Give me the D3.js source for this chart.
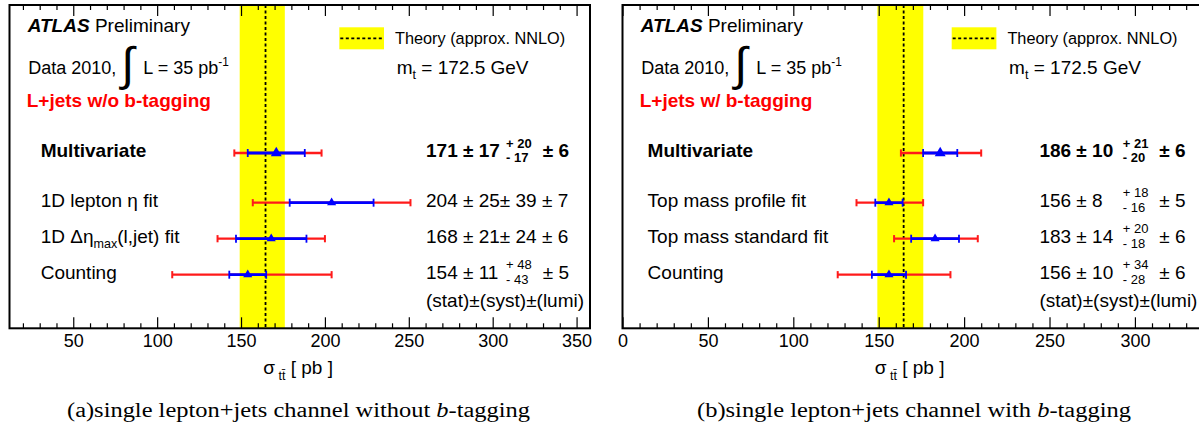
<!DOCTYPE html>
<html><head><meta charset="utf-8">
<script src="https://cdn.jsdelivr.net/npm/d3@7"></script>
<style>body{margin:0;background:#fff}svg{display:block}text{fill:#000}</style>
</head><body>
<script>
// ---------- data ----------
const theory = 164.6, theoryUp = 11.5, theoryDn = 15.4;

const categoriesL = ["Multivariate", "1D lepton η fit", "1D Δη_{max}(l,jet) fit", "Counting"];
const valuesL  = [171, 204, 168, 154];
const statL    = [17, 25, 21, 11];
const systUpL  = [20, 39, 24, 48];
const systDnL  = [17, 39, 24, 43];
const lumiL    = [6, 7, 6, 5];
const totUpL   = [27, 47, 32, 50];
const totDnL   = [25, 47, 32, 45];

const categoriesR = ["Multivariate", "Top mass profile fit", "Top mass standard fit", "Counting"];
const valuesR  = [186, 156, 183, 156];
const statR    = [10, 8, 14, 10];
const systUpR  = [21, 18, 20, 34];
const systDnR  = [20, 16, 18, 28];
const lumiR    = [6, 5, 6, 6];
const totUpR   = [24, 20, 25, 36];
const totDnR   = [23, 19, 24, 30];

const majorTicksL = [50, 100, 150, 200, 250, 300, 350];
const majorTicksR = [0, 50, 100, 150, 200, 250, 300];

// ---------- layout ----------
const W = 1199, H = 434;
const yTop = 5, yBot = 328.3;
const SANS = '"Liberation Sans",Arial,sans-serif';
const SERIF = '"Liberation Serif","Times New Roman",serif';
const svg = d3.select("body").append("svg").attr("width", W).attr("height", H)
  .style("font-family", SANS);

function rich(g, x, y, s, fs, extra) {
  const t = g.append("text").attr("x", x).attr("y", y).attr("font-size", fs);
  if (extra) extra(t);
  const re = /([_^])\{([^}]*)\}/g; let last = 0, m; const parts = [];
  while ((m = re.exec(s))) {
    if (m.index > last) parts.push({t: s.slice(last, m.index), k: 0});
    parts.push({t: m[2], k: m[1] === "_" ? 1 : -1}); last = re.lastIndex;
  }
  if (last < s.length) parts.push({t: s.slice(last), k: 0});
  let shift = 0;
  parts.forEach(p => {
    const target = p.k === 1 ? fs * 0.28 : p.k === -1 ? -fs * 0.47 : 0;
    const sp = t.append("tspan").attr("dy", target - shift).text(p.t);
    if (p.k) sp.attr("font-size", fs * 0.66);
    shift = target;
  });
  return t;
}

function panel(cfg) {
  const g = svg.append("g");
  const x = d3.scaleLinear().domain(cfg.domain).range(cfg.range);
  const rowY = d3.scaleLinear().domain([0, 1]).range([202.7, 238.7]);
  const yOf = i => i === 0 ? rowY(-1.38) : rowY(i - 1);

  // theory band + line
  g.append("rect").attr("x", x(theory - theoryDn)).attr("y", yTop)
    .attr("width", x(theory + theoryUp) - x(theory - theoryDn)).attr("height", yBot - yTop)
    .attr("fill", "#ffff00");
  g.append("line").attr("x1", x(theory)).attr("x2", x(theory)).attr("y1", yTop).attr("y2", yBot)
    .attr("stroke", "#000").attr("stroke-width", 1.8).attr("stroke-dasharray", "3,2.5");

  // axes (ticks inward)
  const minor = d3.range(0, 400, 10).filter(v => v >= cfg.domain[0] && v <= cfg.domain[1] && v % 50 !== 0);
  const axB = d3.axisBottom(x).tickValues(cfg.ticks).tickSizeInner(-11).tickSizeOuter(0).tickPadding(6).tickFormat(d3.format("d"));
  const gb = g.append("g").attr("transform", `translate(0,${yBot})`).call(axB);
  gb.attr("font-family", null).attr("font-size", null);
  gb.selectAll("text").attr("font-size", 18).style("font-family", SANS);
  g.append("g").attr("transform", `translate(0,${yBot})`)
    .call(d3.axisBottom(x).tickValues(minor).tickSizeInner(-5).tickSizeOuter(0).tickFormat(""));
  g.append("g").attr("transform", `translate(0,${yTop})`)
    .call(d3.axisTop(x).tickValues(cfg.ticks).tickSizeInner(-11).tickSizeOuter(0).tickFormat(""));
  g.append("g").attr("transform", `translate(0,${yTop})`)
    .call(d3.axisTop(x).tickValues(minor).tickSizeInner(-5).tickSizeOuter(0).tickFormat(""));
  g.selectAll(".domain").remove();
  g.selectAll(".tick line").attr("stroke", "#000").attr("stroke-width", 1.2);

  // error bars
  const d = cfg.values.map((v, i) => ({v, i, s: cfg.stat[i], tu: cfg.totUp[i], td: cfg.totDn[i]}));
  const bars = g.append("g");
  d.forEach(r => {
    const y = yOf(r.i);
    const lo = x(r.v - r.td), hi = x(r.v + r.tu);
    bars.append("line").attr("x1", lo).attr("x2", hi).attr("y1", y).attr("y2", y).attr("stroke", "#ff1a1a").attr("stroke-width", 2.3);
    [lo, hi].forEach(px => bars.append("line").attr("x1", px).attr("x2", px).attr("y1", y - 3.6).attr("y2", y + 3.6).attr("stroke", "#ff1a1a").attr("stroke-width", 2));
    const slo = x(r.v - r.s), shi = x(r.v + r.s);
    bars.append("line").attr("x1", slo).attr("x2", shi).attr("y1", y).attr("y2", y).attr("stroke", "#0000ff").attr("stroke-width", r.i === 0 ? 3.2 : 2.7);
    [slo, shi].forEach(px => bars.append("line").attr("x1", px).attr("x2", px).attr("y1", y - 4).attr("y2", y + 4).attr("stroke", "#0000ff").attr("stroke-width", 1.8));
    bars.append("path").attr("d", d3.symbol(d3.symbolTriangle).size(r.i === 0 ? 52 : 36)())
      .attr("transform", `translate(${x(r.v)},${y})`).attr("fill", "#0000ff");
  });

  // row labels
  cfg.cats.forEach((c, i) => {
    rich(g, cfg.labelX, yOf(i) + 4, c, 19, t => { if (i === 0) t.attr("font-weight", "bold"); });
  });

  // values
  cfg.values.forEach((v, i) => {
    const y = yOf(i) + 4;
    const bold = i === 0;
    const fw = t => t.attr("font-weight", bold ? "bold" : "normal");
    if (cfg.systUp[i] === cfg.systDn[i]) {
      fw(g.append("text").attr("x", cfg.valX).attr("y", y).attr("font-size", 19)
        .text(`${v} ± ${cfg.stat[i]}± ${cfg.systUp[i]} ± ${cfg.lumi[i]}`));
    } else {
      fw(g.append("text").attr("x", cfg.valX).attr("y", y).attr("font-size", 19).text(`${v} ± ${cfg.stat[i]}`));
      fw(g.append("text").attr("x", cfg.supX).attr("y", y - 9.4).attr("font-size", 13).text(`+ ${cfg.systUp[i]}`));
      fw(g.append("text").attr("x", cfg.supX).attr("y", y + 5).attr("font-size", 13).text(`- ${cfg.systDn[i]}`));
      fw(g.append("text").attr("x", cfg.lumiX).attr("y", y).attr("font-size", 19).text(`± ${cfg.lumi[i]}`));
    }
  });
  g.append("text").attr("x", cfg.valX).attr("y", 306.7).attr("font-size", 19).text("(stat)±(syst)±(lumi)");

  // header
  const x0 = cfg.range[0];
  const h = g.append("text").attr("x", x0 + 18.2).attr("y", 32.3).attr("font-size", 19);
  h.append("tspan").attr("font-weight", "bold").attr("font-style", "italic").text("ATLAS");
  h.append("tspan").text(" Preliminary");
  g.append("text").attr("x", x0 + 18.8).attr("y", 74).attr("font-size", 18).text("Data 2010,");
  g.append("text").attr("x", x0 + 112).attr("y", 79.5).attr("font-size", 47).text("∫");
  rich(g, x0 + 133.8, 74, "L = 35 pb^{-1}", 18);
  g.append("text").attr("x", x0 + 17.2).attr("y", 106.7).attr("font-size", 19)
    .attr("font-weight", "bold").style("fill", "#ff0000").text(cfg.tag);

  // legend
  g.append("rect").attr("x", cfg.legX).attr("y", 27.3).attr("width", 44.7).attr("height", 22).attr("fill", "#ffff00");
  g.append("line").attr("x1", cfg.legX + 1).attr("x2", cfg.legX + 44).attr("y1", 38.3).attr("y2", 38.3)
    .attr("stroke", "#000").attr("stroke-width", 1.8).attr("stroke-dasharray", "3,2.5");
  g.append("text").attr("x", cfg.legX + 55.7).attr("y", 44).attr("font-size", 16.3).text("Theory (approx. NNLO)");
  rich(g, cfg.legX + 57.4, 74, "m_{t} = 172.5 GeV", 19);

  // axis title
  const at = rich(g, cfg.titleX, 374, "σ", 19);
  at.append("tspan").attr("font-size", 12.5).attr("dy", 6).text(" tt\u0304");
  at.append("tspan").attr("font-size", 19).attr("dy", -6).text(" [ pb ]");

  // frame
  g.append("rect").attr("x", cfg.range[0]).attr("y", yTop).attr("width", cfg.frameR - cfg.range[0])
    .attr("height", yBot - yTop).attr("fill", "none").attr("stroke", "#000").attr("stroke-width", 2);

  // caption
  const cap = g.append("text").attr("x", cfg.capX).attr("y", 416.7).attr("font-size", 20.5)
    .style("font-family", SERIF)
    .attr("textLength", cfg.capW).attr("lengthAdjust", "spacingAndGlyphs");
  cap.append("tspan").text(cfg.cap1);
  cap.append("tspan").attr("font-style", "italic").text("b");
  cap.append("tspan").text("-tagging");
}

panel({
  domain: [12, 358], range: [9.5, 590], frameR: 590, ticks: majorTicksL,
  cats: categoriesL, values: valuesL, stat: statL, systUp: systUpL, systDn: systDnL, lumi: lumiL,
  totUp: totUpL, totDn: totDnL,
  labelX: 40.7, valX: 426, supX: 506, lumiX: 542.7, legX: 339.3, titleX: 263.3,
  tag: "L+jets w/o b-tagging", cap1: "(a)single lepton+jets channel without ", capX: 67, capW: 463
});
panel({
  domain: [0, 347], range: [622.5, 1215.2], frameR: 1240, ticks: majorTicksR,
  cats: categoriesR, values: valuesR, stat: statR, systUp: systUpR, systDn: systDnR, lumi: lumiR,
  totUp: totUpR, totDn: totDnR,
  labelX: 647.6, valX: 1039.4, supX: 1122.8, lumiX: 1159.2, legX: 951.7, titleX: 874.8,
  tag: "L+jets w/ b-tagging", cap1: "(b)single lepton+jets channel with ", capX: 697, capW: 434
});
</script>
</body></html>
